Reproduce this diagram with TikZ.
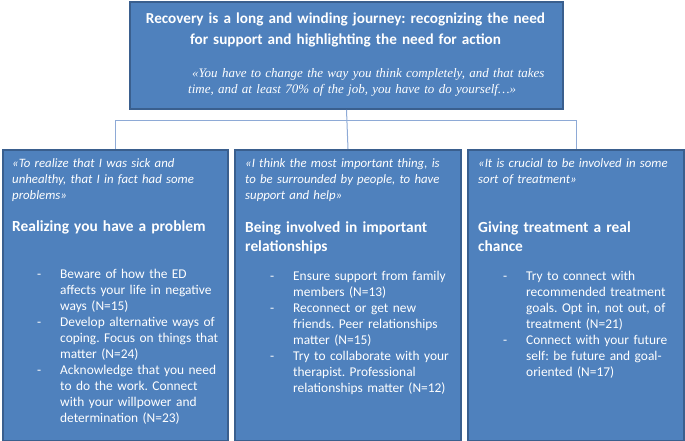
\documentclass[tikz,border=0pt]{standalone}
\usepackage{fontspec}
\setmainfont{Carlito}
\newfontfamily\serifq{Liberation Serif}
\definecolor{boxfill}{HTML}{4F81BD}
\definecolor{boxline}{HTML}{3A5F8E}
\definecolor{conn}{HTML}{8EAAD6}
\tikzset{
  box/.style={draw=boxline, fill=boxfill, line width=2pt, rectangle, inner sep=0pt, anchor=north west},
  link/.style={draw=conn, line width=1pt},
  txt/.style={text=white, inner sep=0pt, anchor=base west, align=left},
  title/.style={txt, font=\frenchspacing\bfseries\fontsize{15.2}{21}\selectfont},
  head/.style={txt, font=\frenchspacing\bfseries\fontsize{15.4}{19}\selectfont},
  quot/.style={txt, font=\frenchspacing\itshape\fontsize{12.8}{16}\selectfont},
  topquot/.style={txt, font=\frenchspacing\serifq\itshape\fontsize{13}{16}\selectfont},
  items/.style={txt, font=\frenchspacing\fontsize{13.4}{16}\selectfont},
}
\newcommand{\itmA}{\hangindent=23pt\hangafter=1\noindent\makebox[23pt][l]{-}}
\newcommand{\itm}{\par\itmA}
\begin{document}
\begin{tikzpicture}[x=1pt,y=-1pt]
\useasboundingbox (0,0) rectangle (685,441);
% boxes
\node[box, minimum width=433pt, minimum height=107pt] (top) at (129,1) {};
\node[box, minimum width=225pt, minimum height=291pt] (left) at (2,149) {};
\node[box, minimum width=226pt, minimum height=291pt] (mid) at (234,149) {};
\node[box, minimum width=216pt, minimum height=291pt] (right) at (467,149) {};
% connectors
\coordinate (bus) at (top.south |- 0,121);
\draw[link] (top.south) -- (mid.north);
\draw[link] (bus) -| (left.north);
\draw[link] (bus) -| (right.north);
% top box text
\node[title, anchor=base, align=center, text width=430pt] (ttl) at (345.5,23.3)
  {Recovery is a long and winding journey: recognizing the need\\for support and highlighting the need for action};
\node[topquot, text width=400pt] (tq) at (188,77.7)
  {\hspace*{4pt}«You have to change the way you think completely, and that takes\\time, and at least 70\% of the job, you have to do yourself…»};
% left
\node[quot, text width=215pt] (lq) at (12,167.3)
  {«To realize that I was sick and\\unhealthy, that I in fact had some\\problems»};
\node[head, text width=215pt] (lh) at (12,231.7) {Realizing you have a problem};
\node[items, text width=190pt] (ll) at (37,278.3)
  {\itmA Beware of how the ED\newline affects your life in negative\newline ways (N=15)
   \itm Develop alternative ways of\newline coping. Focus on things that\newline matter (N=24)
   \itm Acknowledge that you need\newline to do the work. Connect\newline with your willpower and\newline determination (N=23)\par};
% middle
\node[quot, text width=215pt] (mq) at (245,167.3)
  {«I think the most important thing, is\\to be surrounded by people, to have\\support and help»};
\node[head, text width=215pt] (mh) at (245,232.3) {Being involved in important\\relationships};
\node[items, text width=190pt] (ml) at (270,280.5)
  {\itmA Ensure support from family\newline members (N=13)
   \itm Reconnect or get new\newline friends. Peer relationships\newline matter (N=15)
   \itm Try to collaborate with your\newline therapist. Professional\newline relationships matter (N=12)\par};
% right
\node[quot, text width=205pt] (rq) at (478,167.3)
  {«It is crucial to be involved in some\\sort of treatment»};
\node[head, text width=205pt] (rh) at (478,232.3) {Giving treatment a real\\chance};
\node[items, text width=180pt] (rl) at (503,280.5)
  {\itmA Try to connect with\newline recommended treatment\newline goals. Opt in, not out, of\newline treatment (N=21)
   \itm Connect with your future\newline self: be future and goal-\newline oriented (N=17)\par};
\end{tikzpicture}
\end{document}
